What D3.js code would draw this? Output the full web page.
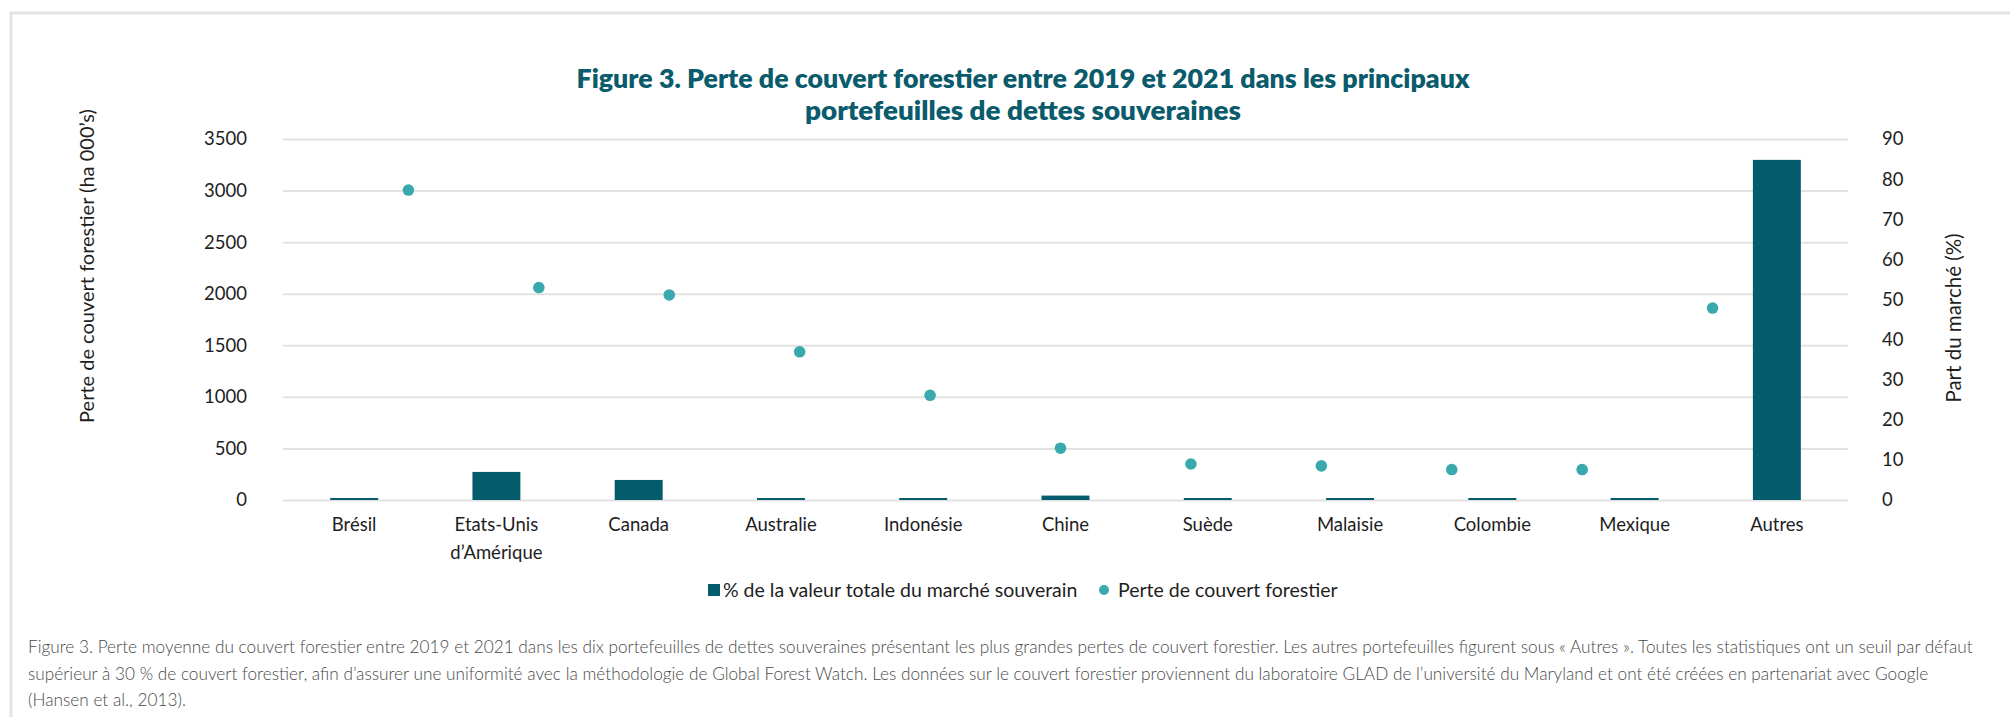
<!DOCTYPE html>
<html>
<head>
<meta charset="utf-8">
<script src="https://cdn.jsdelivr.net/npm/d3@7"></script>
<style>
  html, body { margin: 0; padding: 0; background: #fff; }
  svg { display: block; }
</style>
</head>
<body>
<svg id="chart" width="2010" height="717"></svg>
<script>
// ---------- DATA ----------
const categories = ["Brésil", "Etats-Unis\nd’Amérique", "Canada", "Australie", "Indonésie", "Chine", "Suède", "Malaisie", "Colombie", "Mexique", "Autres"];
const marketShare = [0.5, 7.0, 5.0, 0.5, 0.5, 1.1, 0.5, 0.5, 0.5, 0.5, 84.8];          // % (bars, right axis)
const forestLoss = [3005, 2060, 1988, 1437, 1015, 502, 349, 331, 295, 295, 1861];      // ha 000's (dots, left axis)
const leftTicks = [0, 500, 1000, 1500, 2000, 2500, 3000, 3500];
const rightTicks = [0, 10, 20, 30, 40, 50, 60, 70, 80, 90];
const titleLines = ["Figure 3. Perte de couvert forestier entre 2019 et 2021 dans les principaux", "portefeuilles de dettes souveraines"];
const leftTitle = "Perte de couvert forestier (ha 000’s)";
const rightTitle = "Part du marché (%)";
const legendLabels = ["% de la valeur totale du marché souverain", "Perte de couvert forestier"];
const captionLines = [
  "Figure 3. Perte moyenne du couvert forestier entre 2019 et 2021 dans les dix portefeuilles de dettes souveraines présentant les plus grandes pertes de couvert forestier. Les autres portefeuilles figurent sous « Autres ». Toutes les statistiques ont un seuil par défaut",
  "supérieur à 30 % de couvert forestier, afin d’assurer une uniformité avec la méthodologie de Global Forest Watch. Les données sur le couvert forestier proviennent du laboratoire GLAD de l’université du Maryland et ont été créées en partenariat avec Google",
  "(Hansen et al., 2013)."
];

// ---------- STYLE / LAYOUT ----------
const BAR = "#035b6b", DOT = "#3aa9ad", TITLE = "#0a5b6b", GRID = "#e2e2e2", TXT = "#1e1e1e";
const FONT = "Lato, 'Source Sans Pro', 'Noto Sans', sans-serif";
const plot = { left: 283, right: 1848, top: 139, bottom: 500 };

const svg = d3.select("#chart");

// outer frame
svg.append("rect").attr("x", 11).attr("y", 13).attr("width", 2030).attr("height", 740)
  .attr("fill", "none").attr("stroke", "#e3e3e3").attr("stroke-width", 3);

// scales
const x = d3.scaleBand().domain(categories).range([plot.left, plot.right])
  .paddingInner(0.663).paddingOuter(0.3315);
const xDot = d3.scaleLinear().domain([0, categories.length + 1]).range([plot.left - 5, plot.right - 5]);
const yL = d3.scaleLinear().domain([0, 3500]).range([plot.bottom, plot.top]);
const yR = d3.scaleLinear().domain([0, 90]).range([plot.bottom, plot.top]);

// gridlines (left axis)
const gLeft = svg.append("g").attr("transform", `translate(${plot.left},0)`)
  .call(d3.axisLeft(yL).tickValues(leftTicks).tickSize(-(plot.right - plot.left)).tickPadding(36).tickFormat(d3.format("d")));
gLeft.select(".domain").remove();
gLeft.selectAll(".tick line").attr("stroke", GRID).attr("stroke-width", 2);
gLeft.selectAll(".tick text").attr("fill", TXT).style("font-family", FONT).style("font-size", "18.5px");

// right axis labels
const gRight = svg.append("g").attr("transform", `translate(${plot.right},0)`)
  .call(d3.axisRight(yR).tickValues(rightTicks).tickSize(0).tickPadding(34).tickFormat(d3.format("d")));
gRight.select(".domain").remove();
gRight.selectAll(".tick text").attr("fill", TXT).style("font-family", FONT).style("font-size", "18.5px");

// bars
svg.append("g").selectAll("rect").data(categories).join("rect")
  .attr("x", d => x(d)).attr("width", x.bandwidth())
  .attr("y", (d, i) => yR(marketShare[i]))
  .attr("height", (d, i) => yR(0) - yR(marketShare[i]))
  .attr("fill", BAR);

// dots
svg.append("g").selectAll("circle").data(forestLoss).join("circle")
  .attr("cx", (d, i) => xDot(i + 1)).attr("cy", d => yL(d))
  .attr("r", 5.8).attr("fill", DOT);

// category labels
const xAxis = d3.axisBottom(x).tickSize(0).tickPadding(0).tickFormat("");
const gX = svg.append("g").attr("transform", `translate(0,${plot.bottom})`).call(xAxis);
gX.select(".domain").remove();
gX.selectAll(".tick").each(function(d) {
  const lines = d.split("\n");
  const t = d3.select(this).append("text").attr("fill", TXT).attr("text-anchor", "middle")
    .style("font-family", FONT).style("font-size", "18.5px");
  lines.forEach((ln, k) => t.append("tspan").attr("x", 0).attr("y", 31 + k * 28).text(ln));
});

// title
const title = svg.append("g");
titleLines.forEach((ln, k) => {
  title.append("text").attr("x", 1023).attr("y", 88 + k * 32).attr("text-anchor", "middle")
    .attr("fill", TITLE).style("font-family", FONT).style("font-weight", 800).style("font-size", "26px")
    .attr("textLength", k === 0 ? 893 : 436).attr("lengthAdjust", "spacingAndGlyphs")
    .text(ln);
});

// axis titles
svg.append("text").attr("transform", "translate(94,266) rotate(-90)").attr("text-anchor", "middle")
  .attr("fill", TXT).style("font-family", FONT).style("font-size", "20px").text(leftTitle);
svg.append("text").attr("transform", "translate(1961,318) rotate(-90)").attr("text-anchor", "middle")
  .attr("fill", TXT).style("font-family", FONT).style("font-size", "20.5px").text(rightTitle);

// legend
const lg = svg.append("g").attr("transform", "translate(0,590)");
lg.append("rect").attr("x", 708).attr("y", -6).attr("width", 12).attr("height", 12).attr("fill", BAR);
lg.append("text").attr("x", 723).attr("y", 0).attr("dy", "0.35em").attr("fill", TXT)
  .style("font-family", FONT).style("font-size", "19.5px").text(legendLabels[0]);
lg.append("circle").attr("cx", 1104).attr("cy", 0).attr("r", 5).attr("fill", DOT);
lg.append("text").attr("x", 1118).attr("y", 0).attr("dy", "0.35em").attr("fill", TXT)
  .style("font-family", FONT).style("font-size", "19.5px").text(legendLabels[1]);

// caption
const cap = svg.append("g");
const capTexts = captionLines.map((ln, k) => cap.append("text").attr("x", 28).attr("y", 653 + k * 26.5)
  .attr("fill", "#4a4a4a").style("font-family", FONT).style("font-weight", 300).style("font-size", "16px").text(ln));
const w0 = capTexts[0].node().getComputedTextLength();
const fs = 16 * 1946 / w0;
capTexts.forEach(t => t.style("font-size", fs + "px"));
</script>
</body>
</html>
